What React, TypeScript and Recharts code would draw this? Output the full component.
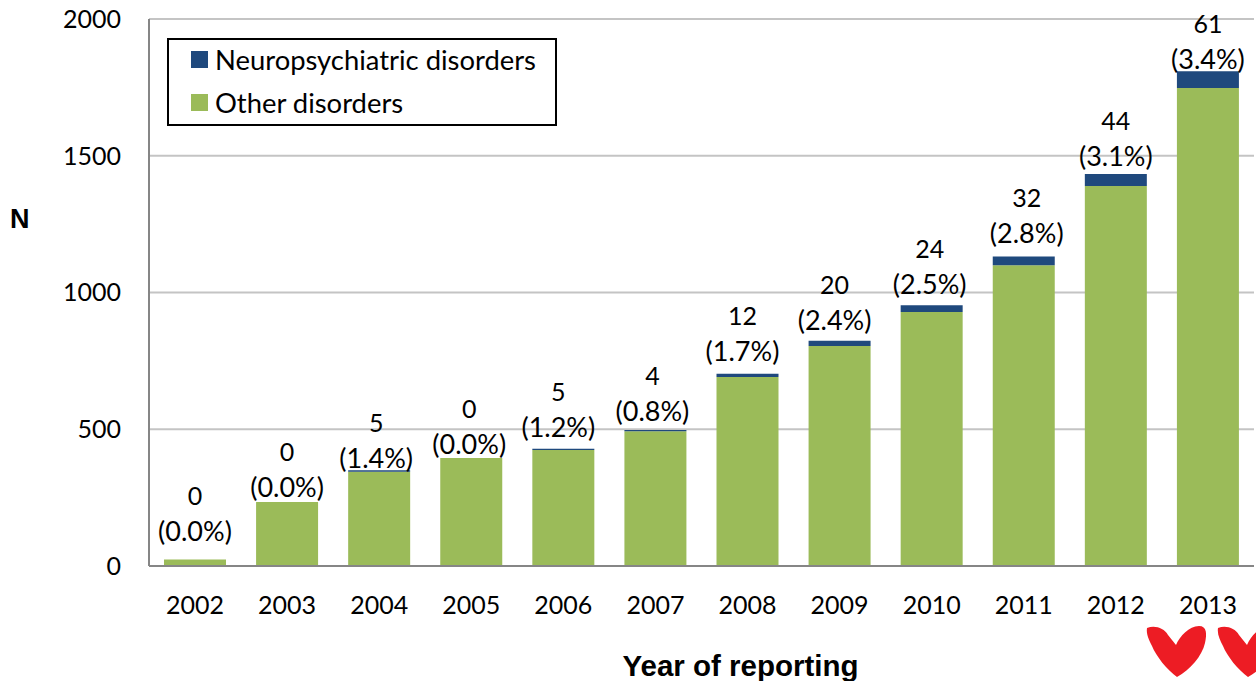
import { Bar, BarChart, CartesianGrid, Label, LabelList, XAxis, YAxis } from "recharts";

const years = ["2002", "2003", "2004", "2005", "2006", "2007", "2008", "2009", "2010", "2011", "2012", "2013"];
const otherDisorders = [24, 234, 345, 395, 424, 493, 691, 804, 929, 1100, 1389, 1748];
const neuroDisorders = [0, 0, 5, 0, 5, 4, 12, 20, 24, 32, 44, 61];
const neuroShare = ["0.0", "0.0", "1.4", "0.0", "1.2", "0.8", "1.7", "2.4", "2.5", "2.8", "3.1", "3.4"];
const yTicks = [0, 500, 1000, 1500, 2000];

// the labels were placed by hand in the original, so each sits its own distance above the green bar.
// they hang off the green series because recharts skips labels on the zero height navy bars
const labelLift = [28, 15, 14, 14, 23, 20, 26, 26, 28, 32, 30, 29];
const labelShift = [0, 0, -3, -2, -5, -3, -5, -5, -2, 3, 0, 0];

const data = years.map((year, i) => ({
  year,
  other: otherDisorders[i],
  neuro: neuroDisorders[i],
}));

const NAVY = "#1f497d";
const GREEN = "#9bbb59";
const BODY_FONT = "Lato, sans-serif";
const TITLE_FONT = "'Liberation Sans', Arial, sans-serif";

function StackLabel(props: any) {
  const { x, y, width, index } = props;
  const cx = x + width / 2 + labelShift[index];
  const mid = y - labelLift[index];
  return (
    <g fontFamily={BODY_FONT} fill="#000" textAnchor="middle">
      <text x={cx} y={mid + 10} fontSize={27}>{`(${neuroShare[index]}%)`}</text>
      <text x={cx} y={mid - 26} fontSize={25}>{neuroDisorders[index]}</text>
    </g>
  );
}

function BoxLegend() {
  const rows = [
    { name: "Neuropsychiatric disorders", color: NAVY },
    { name: "Other disorders", color: GREEN },
  ];
  return (
    <div
      style={{
        position: "absolute",
        left: 167,
        top: 38,
        width: 390,
        height: 88,
        boxSizing: "border-box",
        border: "2px solid #000",
        background: "#fff",
        paddingLeft: 22,
        fontFamily: BODY_FONT,
        fontSize: 27.4,
        color: "#000",
      }}
    >
      <div style={{ marginTop: -2 }}>
        {rows.map((row) => (
          <div key={row.name} style={{ display: "flex", alignItems: "center", height: 43 }}>
            <span style={{ width: 17, height: 17, background: row.color, marginRight: 7 }} />
            {row.name}
          </div>
        ))}
      </div>
    </div>
  );
}

// the two red hearts stuck on the bottom right corner of the source image
function Hearts() {
  const heart = "M0 2 C8 -1 17 2 21 9 L29 19 C33 10 42 0 52 0 C60 0 60 8 58 17 C55 30 43 44 30 51 C20 44 9 30 5 20 C2 14 -1 8 0 2 Z";
  return (
    <svg width={1256} height={681} style={{ position: "absolute", left: 0, top: 0, pointerEvents: "none" }}>
      <path d={heart} fill="#ed1c24" transform="translate(1147 626)" />
      <path d={heart} fill="#ed1c24" transform="translate(1218 626)" />
    </svg>
  );
}

export default function App() {
  return (
    <div style={{ position: "absolute", left: 0, top: 0, width: 1256, height: 681, overflow: "hidden", background: "#fff" }}>
      <BarChart
        width={1256}
        height={681}
        data={data}
        barSize={62}
        margin={{ top: 19, right: 2, bottom: 0, left: 0 }}
      >
        <CartesianGrid vertical={false} stroke="#c4c4c4" strokeWidth={2} />
        <XAxis
          dataKey="year"
          height={115}
          interval={0}
          tickLine={false}
          axisLine={{ stroke: "#868686", strokeWidth: 2 }}
          tick={{ fontFamily: BODY_FONT, fontSize: 25, fill: "#000" }}
          tickMargin={24}
        >
          <Label value="Year of reporting" position="insideBottom" offset={5} dx={39} style={{ fontFamily: TITLE_FONT, fontWeight: 700, fontSize: 29.5, fill: "#000" }} />
        </XAxis>
        <YAxis
          width={149}
          domain={[0, 2000]}
          ticks={yTicks}
          tickLine={false}
          axisLine={{ stroke: "#868686", strokeWidth: 2 }}
          tick={{ fontFamily: BODY_FONT, fontSize: 25, fill: "#000" }}
          tickMargin={22}
        >
          <Label value="N" position="insideLeft" offset={10} dy={-74} style={{ fontFamily: TITLE_FONT, fontWeight: 700, fontSize: 27, fill: "#000" }} />
        </YAxis>
        <Bar dataKey="other" stackId="a" fill={GREEN} isAnimationActive={false}>
          <LabelList dataKey="other" content={<StackLabel />} />
        </Bar>
        <Bar dataKey="neuro" stackId="a" fill={NAVY} isAnimationActive={false} />
      </BarChart>
      <BoxLegend />
      <Hearts />
    </div>
  );
}
